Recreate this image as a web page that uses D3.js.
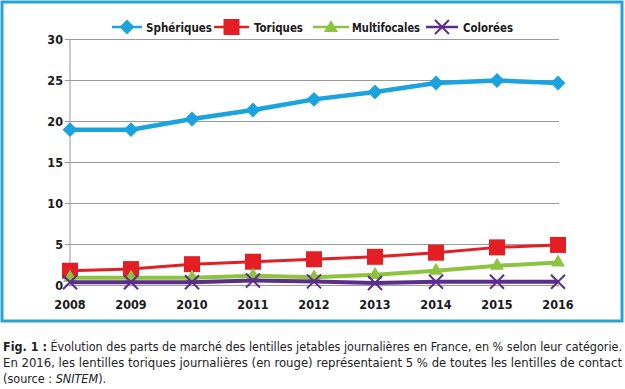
<!DOCTYPE html>
<html><head><meta charset="utf-8">
<script src="https://cdn.jsdelivr.net/npm/d3@7"></script>
<style>body{margin:0;background:#fff}svg{display:block}</style>
</head><body>
<svg id="c" width="625" height="389"></svg>
<script>
const years = ["2008","2009","2010","2011","2012","2013","2014","2015","2016"];
const yTicks = [0,5,10,15,20,25,30];
const spheriques = [19.0,19.0,20.3,21.4,22.7,23.6,24.7,25.0,24.7];
const toriques = [1.8,2.0,2.6,2.9,3.2,3.5,4.0,4.65,4.95];
const multifocales = [0.95,0.95,0.95,1.2,1.0,1.3,1.8,2.4,2.8];
const colorees = [0.4,0.4,0.4,0.6,0.5,0.3,0.45,0.45,0.45];
const seriesNames = ["Sphériques","Toriques","Multifocales","Colorées"];

const series = [
  {name:seriesNames[0], values:spheriques, color:"#1aa3de", w:4.5, shape:"diamond"},
  {name:seriesNames[1], values:toriques, color:"#e31e24", w:3, shape:"square"},
  {name:seriesNames[2], values:multifocales, color:"#8cc43f", w:4, shape:"triangle"},
  {name:seriesNames[3], values:colorees, color:"#5c2d8c", w:4, shape:"cross"}
];

const svg = d3.select("#c");
const font = "'DejaVu Sans Condensed','DejaVu Sans',sans-serif";
const x = d3.scalePoint().domain(years).range([70,558]);
const y = d3.scaleLinear().domain([0,30]).range([285.5,39.5]);

svg.append("rect").attr("x",2).attr("y",2).attr("width",620).attr("height",319)
  .attr("fill","none").attr("stroke","#2aa4cf").attr("stroke-width",3);

// grid
svg.append("g").selectAll("line").data(yTicks).join("line")
  .attr("x1",65).attr("x2",559).attr("y1",d=>y(d)).attr("y2",d=>y(d))
  .attr("stroke","#9a9a9a").attr("stroke-width",1);
svg.append("line").attr("x1",70).attr("x2",70).attr("y1",y(30)).attr("y2",y(0))
  .attr("stroke","#9a9a9a").attr("stroke-width",1);

svg.append("g").selectAll("text").data(yTicks).join("text")
  .attr("x",63).attr("y",d=>y(d)+4.5).attr("text-anchor","end")
  .attr("font-family",font).attr("font-weight","bold").attr("font-size",12.5)
  .attr("fill","#1a1a1a").text(d=>d);
svg.append("g").selectAll("text").data(years).join("text")
  .attr("x",d=>x(d)).attr("y",309).attr("text-anchor","middle")
  .attr("font-family",font).attr("font-weight","bold").attr("font-size",12.5)
  .attr("fill","#1a1a1a").text(d=>d);

function marker(g, shape, color, cx, cy){
  if(shape==="diamond"){
    g.append("path").attr("d",d3.symbol(d3.symbolSquare,110)()).attr("transform",`translate(${cx},${cy}) rotate(45)`).attr("fill",color);
  } else if(shape==="square"){
    g.append("rect").attr("x",cx-8).attr("y",cy-8).attr("width",16).attr("height",16).attr("fill",color);
  } else if(shape==="triangle"){
    g.append("path").attr("d",d3.symbol(d3.symbolTriangle,85)()).attr("transform",`translate(${cx},${cy})`).attr("fill",color);
  } else {
    g.append("path").attr("d",`M${cx-7},${cy-7}L${cx+7},${cy+7}M${cx-7},${cy+7}L${cx+7},${cy-7}`)
      .attr("stroke",color).attr("stroke-width",2);
  }
}

const line = d3.line().x((d,i)=>x(years[i])).y(d=>y(d));
series.forEach(s=>{
  const g = svg.append("g");
  g.append("path").attr("d",line(s.values)).attr("fill","none")
    .attr("stroke",s.color).attr("stroke-width",s.w).attr("stroke-linejoin","round");
  s.values.forEach((v,i)=>marker(g,s.shape,s.color,x(years[i]),y(v)));
});

// legend
const legX = [[112,142,146,66],[214,249,254,49],[313,349,352,68],[426,458,463,50]];
series.forEach((s,i)=>{
  const [a,b,t,w] = legX[i];
  const g = svg.append("g");
  g.append("line").attr("x1",a).attr("x2",b).attr("y1",27).attr("y2",27)
    .attr("stroke",s.color).attr("stroke-width",2.5);
  marker(g,s.shape,s.color,(a+b)/2,s.shape==="triangle"?28:27);
  g.append("text").attr("x",t).attr("y",31.5).attr("font-family",font)
    .attr("font-weight","bold").attr("font-size",12.5).attr("fill","#1a1a1a")
    .attr("textLength",w).attr("lengthAdjust","spacingAndGlyphs").text(s.name);
});

// caption
const cap = svg.append("g").attr("font-family",font).attr("font-size",12.5).attr("fill","#222");
const t1 = cap.append("text").attr("x",3).attr("y",351).attr("textLength",619).attr("lengthAdjust","spacingAndGlyphs");
t1.append("tspan").attr("font-weight","bold").text("Fig. 1 :");
t1.append("tspan").text(" Évolution des parts de marché des lentilles jetables journalières en France, en % selon leur catégorie.");
cap.append("text").attr("x",3).attr("y",367).attr("textLength",619).attr("lengthAdjust","spacingAndGlyphs")
  .text("En 2016, les lentilles toriques journalières (en rouge) représentaient 5 % de toutes les lentilles de contact");
const t3 = cap.append("text").attr("x",3).attr("y",383);
t3.append("tspan").text("(source : ");
t3.append("tspan").attr("font-style","italic").text("SNITEM");
t3.append("tspan").text(").");
</script>
</body></html>
